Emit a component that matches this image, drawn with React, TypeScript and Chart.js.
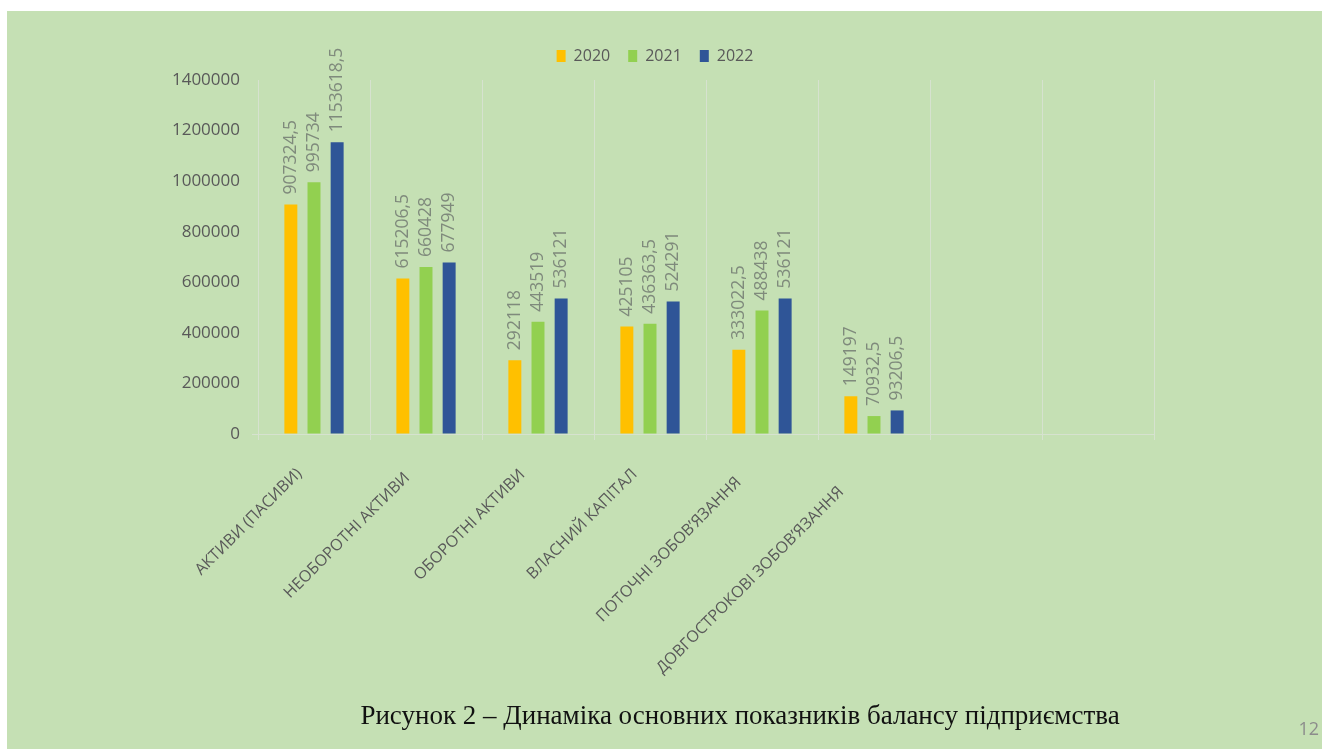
import React, { useEffect, useRef } from "react";
import { Chart, registerables } from "chart.js";

Chart.register(...registerables);

const categories = [
  "АКТИВИ (ПАСИВИ)",
  "НЕОБОРОТНІ АКТИВИ",
  "ОБОРОТНІ АКТИВИ",
  "ВЛАСНИЙ КАПІТАЛ",
  "ПОТОЧНІ ЗОБОВ’ЯЗАННЯ",
  "ДОВГОСТРОКОВІ ЗОБОВ’ЯЗАННЯ",
  "",
  "",
];
const seriesNames = ["2020", "2021", "2022"];
const values2020 = [907324.5, 615206.5, 292118, 425105, 333022.5, 149197, null, null];
const values2021 = [995734, 660428, 443519, 436363.5, 488438, 70932.5, null, null];
const values2022 = [1153618.5, 677949, 536121, 524291, 536121, 93206.5, null, null];
const yTicks = [0, 200000, 400000, 600000, 800000, 1000000, 1200000, 1400000];
const seriesColors = ["#FFC000", "#92D050", "#2F5597"];

const caption = "Рисунок 2 – Динаміка основних показників балансу підприємства";
const pageNumber = "12";

const gridColor = "#d6e2cf";
const textColor = "#595959";

const valueLabelPlugin = {
  id: "valueLabels",
  afterDatasetsDraw(chart: any) {
    const ctx = chart.ctx;
    ctx.save();
    ctx.font = "17.5px 'Open Sans'";
    ctx.fillStyle = "#7f8a7c";
    ctx.textAlign = "left";
    ctx.textBaseline = "middle";
    chart.data.datasets.forEach((ds: any, i: number) => {
      const meta = chart.getDatasetMeta(i);
      meta.data.forEach((el: any, j: number) => {
        const v = ds.data[j];
        if (v === null || v === undefined) return;
        ctx.save();
        ctx.translate(el.x, el.y - 10);
        ctx.rotate(-Math.PI / 2);
        ctx.fillText(String(v).replace(".", ","), 0, 0);
        ctx.restore();
      });
    });
    ctx.restore();
  },
};

// Slanted category labels, placed at the category axis' own tick pixels
const categoryLabelPlugin = {
  id: "slantedCategoryLabels",
  afterDraw(chart: any) {
    const scale = chart.scales.x;
    const ctx = chart.ctx;
    ctx.save();
    ctx.font = "16px 'Open Sans'";
    ctx.fillStyle = textColor;
    ctx.textAlign = "right";
    ctx.textBaseline = "middle";
    categories.forEach((label, i) => {
      if (!label) return;
      const x = scale.getPixelForTick(i);
      const w = ctx.measureText(label).width;
      ctx.save();
      ctx.translate(x + 8.5, scale.top + 14);
      ctx.rotate(-Math.PI / 4);
      ctx.fillText(label, -0.228 * w, 0);
      ctx.restore();
    });
    ctx.restore();
  },
};

function BalanceChart() {
  const canvasRef = useRef<HTMLCanvasElement | null>(null);

  useEffect(() => {
    if (!canvasRef.current) return;
    const allSeries = [values2020, values2021, values2022];
    const chart = new Chart(canvasRef.current, {
      type: "bar",
      data: {
        labels: categories,
        datasets: seriesNames.map((name, i) => ({
          label: name,
          data: allSeries[i],
          backgroundColor: seriesColors[i],
          borderWidth: 0,
          categoryPercentage: 0.62,
          barPercentage: 0.56,
        })),
      },
      options: {
        animation: false,
        responsive: false,
        maintainAspectRatio: false,
        layout: { padding: { left: 149, right: 168, top: 19, bottom: 0 } },
        plugins: {
          legend: {
            position: "top",
            labels: {
              boxWidth: 9,
              boxHeight: 12,
              padding: 18,
              color: textColor,
              font: { family: "Open Sans", size: 16 },
            },
          },
          // empty spacer box between legend and plot area
          title: {
            display: true,
            text: "",
            weight: 0,
            padding: 0,
            font: { size: 6, lineHeight: 1 },
          },
          tooltip: { enabled: false },
        },
        scales: {
          x: {
            grid: { color: gridColor, offset: true, tickLength: 6 },
            border: { color: gridColor },
            ticks: { display: false, autoSkip: false },
            afterFit: (axis: any) => {
              axis.height = 315;
            },
          },
          y: {
            min: 0,
            max: 1400000,
            afterBuildTicks: (axis: any) => {
              axis.ticks = yTicks.map((v) => ({ value: v }));
            },
            ticks: {
              callback: (v: any) => String(v),
              color: textColor,
              font: { family: "Open Sans", size: 17 },
              padding: 12,
            },
            grid: {
              color: (c: any) => (c.tick && c.tick.value === 0 ? gridColor : "rgba(0,0,0,0)"),
              tickLength: 6,
            },
            border: { color: gridColor },
            afterFit: (axis: any) => {
              axis.width = 102;
            },
          },
        },
      },
      plugins: [valueLabelPlugin, categoryLabelPlugin],
    });
    return () => chart.destroy();
  }, []);

  return <canvas ref={canvasRef} width={1315} height={738} style={{ display: "block" }} />;
}

export default function App() {
  return (
    <div
      style={{
        position: "fixed",
        left: 7,
        top: 11,
        width: 1315,
        height: 738,
        background: "#C5E0B4",
        overflow: "hidden",
      }}
    >
      <BalanceChart />
      <div
        style={{
          position: "absolute",
          left: 733,
          top: 689,
          transform: "translateX(-50%)",
          whiteSpace: "nowrap",
          fontFamily: "'Liberation Serif', 'Times New Roman', serif",
          fontSize: 27,
          lineHeight: "30px",
          color: "#111",
        }}
      >
        {caption}
      </div>
      <div
        style={{
          position: "absolute",
          right: 3,
          top: 706,
          fontFamily: "'Open Sans', sans-serif",
          fontSize: 18,
          lineHeight: "22px",
          color: "#8c8c8c",
        }}
      >
        {pageNumber}
      </div>
    </div>
  );
}
